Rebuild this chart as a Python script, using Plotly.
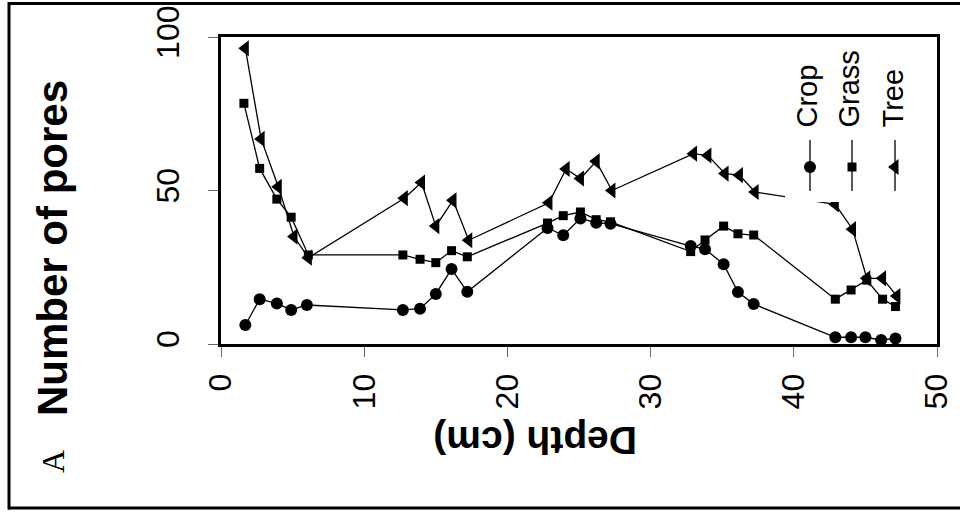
import plotly.graph_objects as go

# ---------------- data ----------------
depth_crop = [1.7, 2.7, 3.9, 4.9, 6.0, 12.7, 13.9, 15.0, 16.1, 17.2, 22.8, 23.9, 25.1,
              26.2, 27.2, 32.8, 33.8, 35.1, 36.1, 37.2, 42.9, 44.0, 45.0, 46.1, 47.1]
crop = [6.2, 14.6, 13.2, 11.1, 12.7, 11.1, 11.5, 16.3, 24.4, 17.0, 37.8, 35.4, 40.9,
        39.5, 39.2, 31.9, 30.9, 26.0, 16.9, 13.0, 2.2, 2.2, 2.2, 1.3, 1.8]

depth_grass = [1.6, 2.7, 3.9, 4.9, 6.1, 12.7, 13.9, 15.0, 16.1, 17.2, 22.8, 23.9, 25.1,
               26.2, 27.2, 32.8, 33.8, 35.1, 36.1, 37.2, 42.9, 44.0, 45.1, 46.2, 47.1]
grass = [78.4, 57.2, 47.2, 41.3, 29.0, 29.0, 27.6, 26.5, 30.4, 28.4, 39.4, 41.8, 43.0,
         40.5, 39.8, 30.1, 33.9, 38.4, 35.9, 35.5, 14.6, 17.6, 20.8, 14.6, 12.2]

depth_tree = [1.7, 2.8, 4.0, 5.1, 6.1, 12.8, 14.0, 15.0, 16.2, 17.3, 22.9, 24.1, 25.1,
              26.2, 27.3, 33.0, 34.0, 35.2, 36.2, 37.3, 42.9, 44.1, 45.1, 46.2, 47.2]
tree = [96.3, 66.8, 51.2, 35.0, 28.1, 47.5, 52.6, 38.4, 46.8, 33.8, 46.0, 57.0, 53.9,
        59.5, 50.0, 62.0, 61.4, 55.5, 55.0, 49.5, 45.5, 37.4, 21.4, 21.4, 15.6]

series_names = ["Crop", "Grass", "Tree"]
x_ticks = [0, 10, 20, 30, 40, 50]
y_ticks = [0, 50, 100]

# ---------------- geometry helpers ----------------
W, H = 960, 514
L, R, T, B = 221, 23, 37, 170
PW, PH = W - L - R, H - T - B


def px(x):
    return (x - L) / PW


def py(y):
    return (H - B - y) / PH


symbols = ["circle", "square", "triangle-left"]
sizes = [12, 9, 14]
FONT = "Liberation Sans"

fig = go.Figure()
for name, xs, ys, sym, sz in zip(series_names,
                                 [depth_crop, depth_grass, depth_tree],
                                 [crop, grass, tree], symbols, sizes):
    fig.add_trace(go.Scatter(
        x=xs, y=ys, name=name, mode="lines+markers",
        line=dict(color="black", width=1.3),
        marker=dict(symbol=sym, size=sz, color="black", line=dict(width=0)),
        showlegend=False, xaxis="x", yaxis="y"))

# legend background (covers lines) on an overlay axis in paper-like units
fig.add_trace(go.Scatter(
    x=[px(785), px(930), px(930), px(785), px(785)],
    y=[py(48), py(48), py(202), py(202), py(48)],
    mode="lines", fill="toself", fillcolor="white",
    line=dict(width=0, color="white"), showlegend=False, hoverinfo="skip",
    xaxis="x2", yaxis="y2"))

leg_x = [810, 852, 895]
for lx, sym, sz in zip(leg_x, symbols, sizes):
    fig.add_trace(go.Scatter(
        x=[px(lx), px(lx)], y=[py(140), py(191)], mode="lines",
        line=dict(color="black", width=1.3), showlegend=False, hoverinfo="skip",
        xaxis="x2", yaxis="y2"))
    fig.add_trace(go.Scatter(
        x=[px(lx)], y=[py(167)], mode="markers",
        marker=dict(symbol=sym, size=sz, color="black"), showlegend=False,
        hoverinfo="skip", xaxis="x2", yaxis="y2"))

annotations = []
for lx, name in zip([806, 848, 892], series_names):
    annotations.append(dict(
        x=px(lx), y=py(130), xref="paper", yref="paper", text=name,
        textangle=-90, showarrow=False, xanchor="center", yanchor="bottom",
        font=dict(family=FONT, size=29, color="black")))

annotations += [
    dict(x=px(52), y=py(248), xref="paper", yref="paper",
         text="<b>Number of pores</b>", textangle=-90, showarrow=False,
         xanchor="center", yanchor="middle",
         font=dict(family=FONT, size=42, color="black")),
    dict(x=px(535), y=py(441), xref="paper", yref="paper",
         text="<b>Depth (cm)</b>", textangle=180, showarrow=False,
         xanchor="center", yanchor="middle",
         font=dict(family=FONT, size=39, color="black")),
    dict(x=px(53), y=py(462), xref="paper", yref="paper",
         text="A", textangle=-90, showarrow=False,
         xanchor="center", yanchor="middle",
         font=dict(family="Liberation Serif", size=32, color="black")),
]

shapes = [
    dict(type="line", xref="paper", yref="paper", x0=px(8), x1=px(960),
         y0=py(3.5), y1=py(3.5), line=dict(color="black", width=3)),
    dict(type="line", xref="paper", yref="paper", x0=px(8), x1=px(960),
         y0=py(508), y1=py(508), line=dict(color="black", width=3)),
    dict(type="line", xref="paper", yref="paper", x0=px(9), x1=px(9),
         y0=py(2), y1=py(509.5), line=dict(color="black", width=3)),
]

axis_common = dict(showgrid=False, zeroline=False, showline=True, mirror=True,
                   linecolor="black", linewidth=3, ticks="outside", ticklen=10,
                   tickwidth=1, tickcolor="#666", automargin=False,
                   tickfont=dict(family=FONT, size=32, color="black"),
                   tickangle=-90)

fig.update_layout(
    width=W, height=H, autosize=False,
    margin=dict(l=L, r=R, t=T, b=B, pad=0),
    paper_bgcolor="white", plot_bgcolor="white",
    showlegend=False,
    xaxis=dict(range=[0, 50], tickvals=x_ticks, ticklabelstandoff=4, **axis_common),
    yaxis=dict(range=[0, 100], tickvals=y_ticks, ticklabelstandoff=16, **axis_common),
    xaxis2=dict(range=[0, 1], overlaying="x", visible=False, fixedrange=True),
    yaxis2=dict(range=[0, 1], overlaying="y", visible=False, fixedrange=True),
    annotations=annotations, shapes=shapes,
)

fig.write_html("out.html", config={"displayModeBar": False},
               post_script="document.body.style.margin='0px';"
                           "document.documentElement.style.overflow='hidden';"
                           "document.body.style.overflow='hidden';")
